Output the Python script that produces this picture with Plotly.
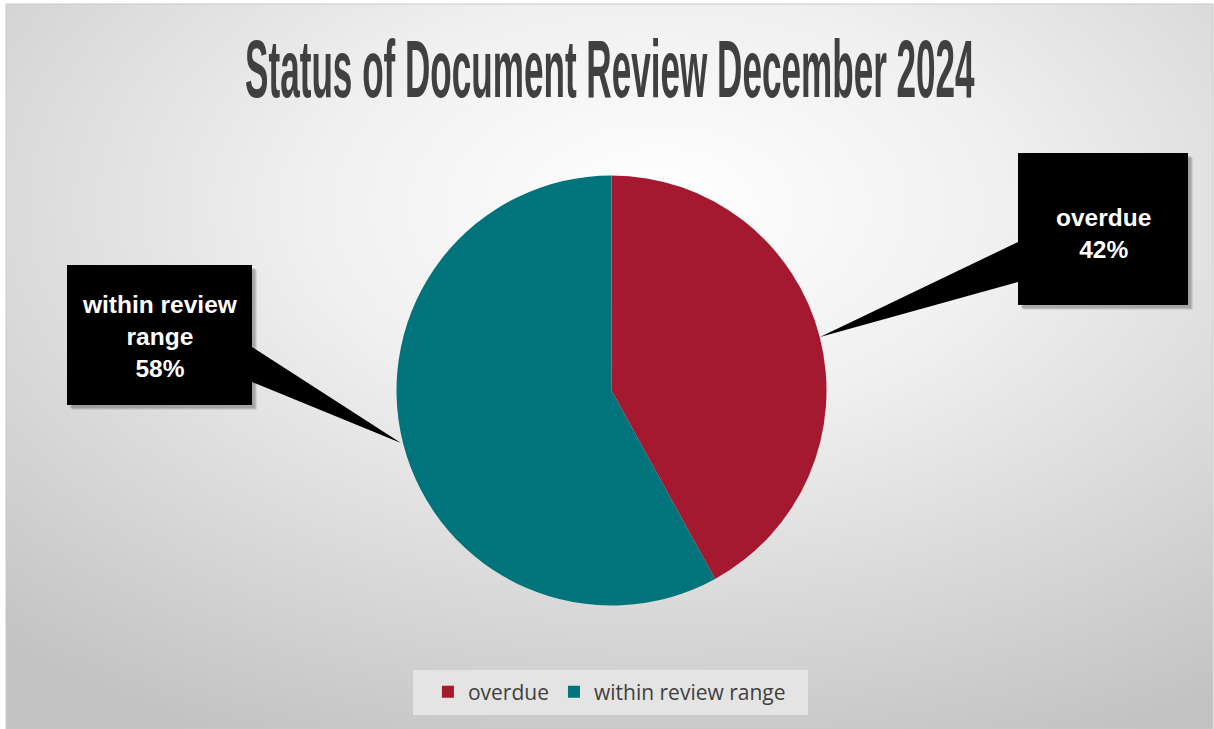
import base64
import plotly.graph_objects as go

# ---- data ----
categories = ["overdue", "within review range"]
values = [42, 58]
colors = ["#A51930", "#00737B"]
callout_text = ["overdue", "within review<br>range"]
title_text = "Status of Document Review December 2024"

W, H = 1214, 729
TITLE_SIZE = 48


def px(x):
    return x / W


def py(y):
    return 1 - y / H


# background radial gradient as an SVG image
svg = (
    '<svg xmlns="http://www.w3.org/2000/svg" width="1208" height="725" '
    'viewBox="0 0 1208 725" preserveAspectRatio="none">'
    '<defs><radialGradient id="g" cx="0.54" cy="0.28" r="0.82" fx="0.54" fy="0.28">'
    '<stop offset="0" stop-color="#ffffff"/>'
    '<stop offset="0.35" stop-color="#f0f0f0"/>'
    '<stop offset="1" stop-color="#c2c2c2"/>'
    '</radialGradient></defs>'
    '<rect x="0" y="0" width="1208" height="725" fill="url(#g)"/></svg>'
)
svg_uri = "data:image/svg+xml;base64," + base64.b64encode(svg.encode()).decode()

fig = go.Figure()
fig.add_trace(go.Pie(
    labels=categories,
    values=values,
    marker=dict(colors=colors, line=dict(width=0)),
    sort=False,
    direction="clockwise",
    rotation=0,
    textinfo="none",
    hoverinfo="label+percent",
    domain=dict(x=[px(396.5), px(826.5)], y=[py(605.5), py(175.5)]),
))

shapes = []
# chart frame
shapes.append(dict(type="rect", xref="paper", yref="paper",
                   x0=px(6), x1=px(1213), y0=py(4), y1=py(729),
                   line=dict(color="#c8c8c8", width=1), layer="below"))
# legend background
shapes.append(dict(type="rect", xref="paper", yref="paper",
                   x0=px(413), x1=px(808), y0=py(670), y1=py(715),
                   fillcolor="#e4e4e4", line=dict(width=0), layer="below"))

# callout boxes: (box x0, y0, x1, y1, pointer base y0, base y1, base x, tip x, tip y, text shift)
boxes = [
    (1018, 153, 1188, 305, 242, 282, 1018, 820, 337, 4),
    (67, 265, 252, 405, 347, 382, 252, 401, 443, 1),
]
for (x0, y0, x1, y1, b0, b1, bx, tx, ty, _s) in boxes:
    # soft shadow
    for off, a in [(5, 0.08), (4, 0.10), (3, 0.12)]:
        shapes.append(dict(type="rect", xref="paper", yref="paper",
                           x0=px(x0 + off), x1=px(x1 + off), y0=py(y0 + off), y1=py(y1 + off),
                           fillcolor=f"rgba(0,0,0,{a})", line=dict(width=0)))
    shapes.append(dict(type="path", xref="paper", yref="paper",
                       path=f"M {px(bx)},{py(b0)} L {px(tx)},{py(ty)} L {px(bx)},{py(b1)} Z",
                       fillcolor="#000000", line=dict(width=0)))
    shapes.append(dict(type="rect", xref="paper", yref="paper",
                       x0=px(x0), x1=px(x1), y0=py(y0), y1=py(y1),
                       fillcolor="#000000", line=dict(width=0)))

annotations = []
total = sum(values)
for i, (x0, y0, x1, y1, *_rest, shift) in enumerate(boxes):
    pct = round(values[i] / total * 100)
    annotations.append(dict(
        xref="paper", yref="paper",
        x=px((x0 + x1) / 2), y=py((y0 + y1) / 2 + shift),
        xanchor="center", yanchor="middle",
        text=f"<b>{callout_text[i]}<br>{pct}%</b>", showarrow=False,
        align="center",
        font=dict(family="Liberation Sans, Arial, sans-serif", size=24.5, color="#ffffff"),
    ))

fig.update_layout(
    width=W, height=H,
    margin=dict(l=0, r=0, t=0, b=0),
    paper_bgcolor="#ffffff",
    plot_bgcolor="rgba(0,0,0,0)",
    images=[dict(source=svg_uri, xref="paper", yref="paper",
                 x=px(6), y=py(4), sizex=px(1213) - px(6), sizey=py(4) - py(729),
                 xanchor="left", yanchor="top", sizing="stretch", layer="below")],
    title=dict(text=title_text, x=0.502, xanchor="center", y=py(69), yanchor="middle",
               font=dict(family="Liberation Sans, Arial, sans-serif", size=TITLE_SIZE,
                         weight="bold", color="#404040")),
    showlegend=True,
    legend=dict(orientation="h", x=0.502, xanchor="center", y=py(692), yanchor="middle",
                bgcolor="rgba(0,0,0,0)",
                font=dict(family="Open Sans, Noto Sans, sans-serif", size=21, color="#404040"),
                traceorder="normal"),
    shapes=shapes,
    annotations=annotations,
)

# remove the page margin, and condense the title into a tall narrow face
post_js = """
document.body.style.margin = '0px';
function fixTitle() {
  var gd = document.getElementById('{plot_id}');
  if (!gd) return;
  var t = gd.querySelector('.gtitle');
  if (!t) return;
  var fs = %d;
  var bb = t.getBBox();
  var cx = bb.x + bb.width / 2;
  var baseline = bb.y + 0.905 * fs;
  var capMid = baseline - 0.358 * fs;
  var sx = 730 / bb.width;
  var sy = 58 / (0.716 * fs);
  t.setAttribute('transform',
    'translate(' + 610 + ',' + 69 + ') scale(' + sx + ',' + sy + ') translate(' + (-cx) + ',' + (-capMid) + ')');
}
fixTitle();
var gdiv = document.getElementById('{plot_id}');
if (gdiv && gdiv.on) { gdiv.on('plotly_afterplot', fixTitle); }
""" % TITLE_SIZE

fig.write_html("out.html", post_script=post_js, config={"displayModeBar": False},
               div_id="chart")
